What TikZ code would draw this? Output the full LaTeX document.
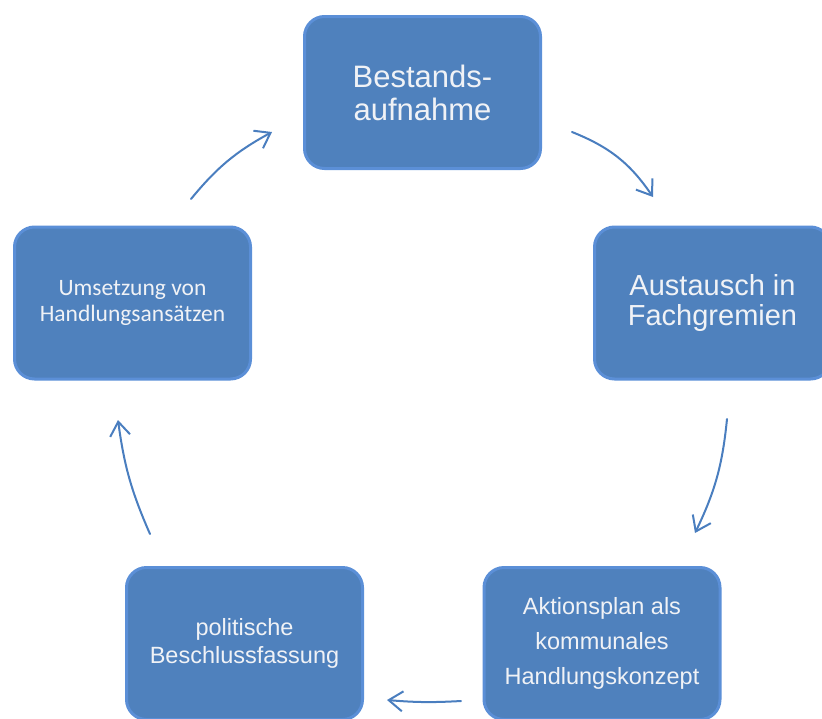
\documentclass[tikz,border=0pt]{standalone}
\usepackage{fontspec}
\setmainfont{Liberation Sans}
\newfontfamily\calib{Carlito}
\usetikzlibrary{arrows.meta}
\definecolor{boxfill}{HTML}{4F81BD}
\definecolor{boxline}{HTML}{5B8FD7}
\definecolor{arrowc}{HTML}{4A7EBF}
\definecolor{txt}{HTML}{F0F2F6}
\begin{document}
\begin{tikzpicture}[x=1pt,y=-1pt,
  box/.style={draw=boxline, line width=3pt, fill=boxfill, rounded corners=20pt,
    minimum width=236pt, minimum height=152pt, align=center, text=txt, inner sep=0pt},
  flow/.style={draw=arrowc, line width=2pt, line cap=round,
    -{Straight Barb[length=14pt,width=20pt,line width=2pt]}}]
\useasboundingbox (0,0) rectangle (822,718);
\node[box, font={\fontsize{31}{33}\selectfont}] (top) at (422.5,92.5) {Bestands-\\aufnahme};
\node[box, font={\fontsize{29}{30}\selectfont}] (right) at (712.5,303) {Austausch in\\Fachgremien};
\node[box, font={\calib\fontsize{23.5}{26}\selectfont}] (left) at (132.5,303) {Umsetzung von\\Handlungsansätzen};
\node[box, font={\fontsize{23.5}{28}\selectfont}] (bl) at (244.5,643.5) {politische\\Beschlussfassung};
\node[box, font={\fontsize{23.5}{35}\selectfont}] (br) at (602,643.5) {Aktionsplan als\\kommunales\\Handlungskonzept};
\coordinate (a1s) at (572,132);
\coordinate (a1e) at (653,197);
\coordinate (a2s) at (727,419);
\coordinate (a2e) at (695,533);
\coordinate (a3s) at (461,701);
\coordinate (a3e) at (387,700);
\coordinate (a4s) at (150,534);
\coordinate (a4e) at (118,420);
\coordinate (a5s) at (191,199);
\coordinate (a5e) at (272,132);
\draw[flow] (a1s) to[bend left=17] (a1e);
\draw[flow] (a2s) to[bend left=10] (a2e);
\draw[flow] (a3s) to[bend left=4] (a3e);
\draw[flow] (a4s) to[bend left=8] (a4e);
\draw[flow] (a5s) to[bend left=11] (a5e);
\end{tikzpicture}
\end{document}
